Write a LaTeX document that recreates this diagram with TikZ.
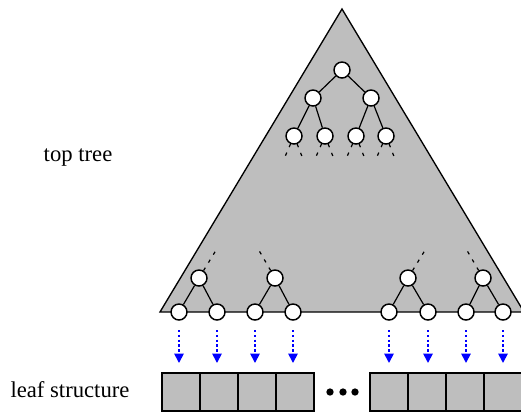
\documentclass[tikz,border=0pt]{standalone}
\usepackage{fontspec}
\setmainfont{Liberation Serif}
\usetikzlibrary{arrows.meta, positioning, calc}
\usepackage{xcolor}
\definecolor{treegray}{RGB}{190,190,190}
\definecolor{arrowblue}{RGB}{0,0,255}
\tikzset{
  tnode/.style   = {circle, draw=black, fill=white, line width=1.1pt,
                    minimum size=12pt, inner sep=0pt},
  tedge/.style   = {draw=black, line width=0.9pt},
  stub/.style    = {draw=black, line width=0.9pt, dash pattern=on 2.5pt off 4.5pt},
  cell/.style    = {rectangle, draw=black, fill=treegray, line width=1pt,
                    minimum width=28.5pt, minimum height=28.5pt, inner sep=0pt},
  leafarrow/.style = {-{Triangle[length=7pt, width=7pt]}, arrowblue,
                      line width=1.3pt, dash pattern=on 1.8pt off 1.8pt},
  label/.style   = {font=\fontsize{17}{20}\selectfont},
}
\begin{document}
\begin{tikzpicture}[x=0.75pt, y=-0.75pt]
  \useasboundingbox (0,0) rectangle (521,412);
  % big triangle
  \draw[fill=treegray, line width=1pt, line join=miter] (342,9) -- (160,312) -- (524,312) -- cycle;
  % top tree
  \node[tnode] (r)  at (342,70)  {};
  \node[tnode] (a)  at (313,98)  {};
  \node[tnode] (b)  at (371,98)  {};
  \foreach \n/\x in {a1/294, a2/325, b1/356, b2/386} {
    \node[tnode] (\n) at (\x,136) {};
  }
  \draw[tedge] (r) -- (a);
  \draw[tedge] (r) -- (b);
  \draw[tedge] (a) -- (a1);
  \draw[tedge] (a) -- (a2);
  \draw[tedge] (b) -- (b1);
  \draw[tedge] (b) -- (b2);
  % stubs below the top tree
  \foreach \n in {a1, a2, b1, b2} {
    \coordinate (\n l) at ($(\n)+(-10,23)$);
    \coordinate (\n r) at ($(\n)+(9,23)$);
    \draw[stub] (\n) -- (\n l);
    \draw[stub] (\n) -- (\n r);
  }
  % bottom of the tree
  \foreach \i/\x in {1/179, 2/217, 3/255, 4/293, 5/389, 6/428, 7/466, 8/503} {
    \node[tnode] (l\i) at (\x,312) {};
  }
  \foreach \j/\x/\dx in {1/199/19, 2/275/-18, 3/408/19, 4/483/-18} {
    \node[tnode] (p\j) at (\x,278) {};
    \coordinate (u\j) at ($(p\j)+(\dx,-31)$);
    \draw[stub] (p\j) -- (u\j);
  }
  \draw[tedge] (p1) -- (l1);
  \draw[tedge] (p1) -- (l2);
  \draw[tedge] (p2) -- (l3);
  \draw[tedge] (p2) -- (l4);
  \draw[tedge] (p3) -- (l5);
  \draw[tedge] (p3) -- (l6);
  \draw[tedge] (p4) -- (l7);
  \draw[tedge] (p4) -- (l8);
  % leaf structure
  \foreach \i/\x in {1/181, 2/219, 3/257, 4/295, 5/389, 6/427, 7/465, 8/503} {
    \node[cell] (c\i) at (\x,392) {};
  }
  \foreach \k/\x in {1/330, 2/343, 3/355} {
    \node[circle, fill=black, minimum size=5.5pt, inner sep=0pt] (d\k) at (\x,392) {};
  }
  % arrows
  \foreach \i in {1,...,8} {
    \draw[leafarrow, shorten <=7pt, shorten >=7pt] (l\i) -- (l\i |- c\i.north);
  }
  % labels
  \node[label] (toplbl)  at (78,158) {top tree};
  \node[label] (leaflbl) at (70,390) {leaf structure};
\end{tikzpicture}
\end{document}
